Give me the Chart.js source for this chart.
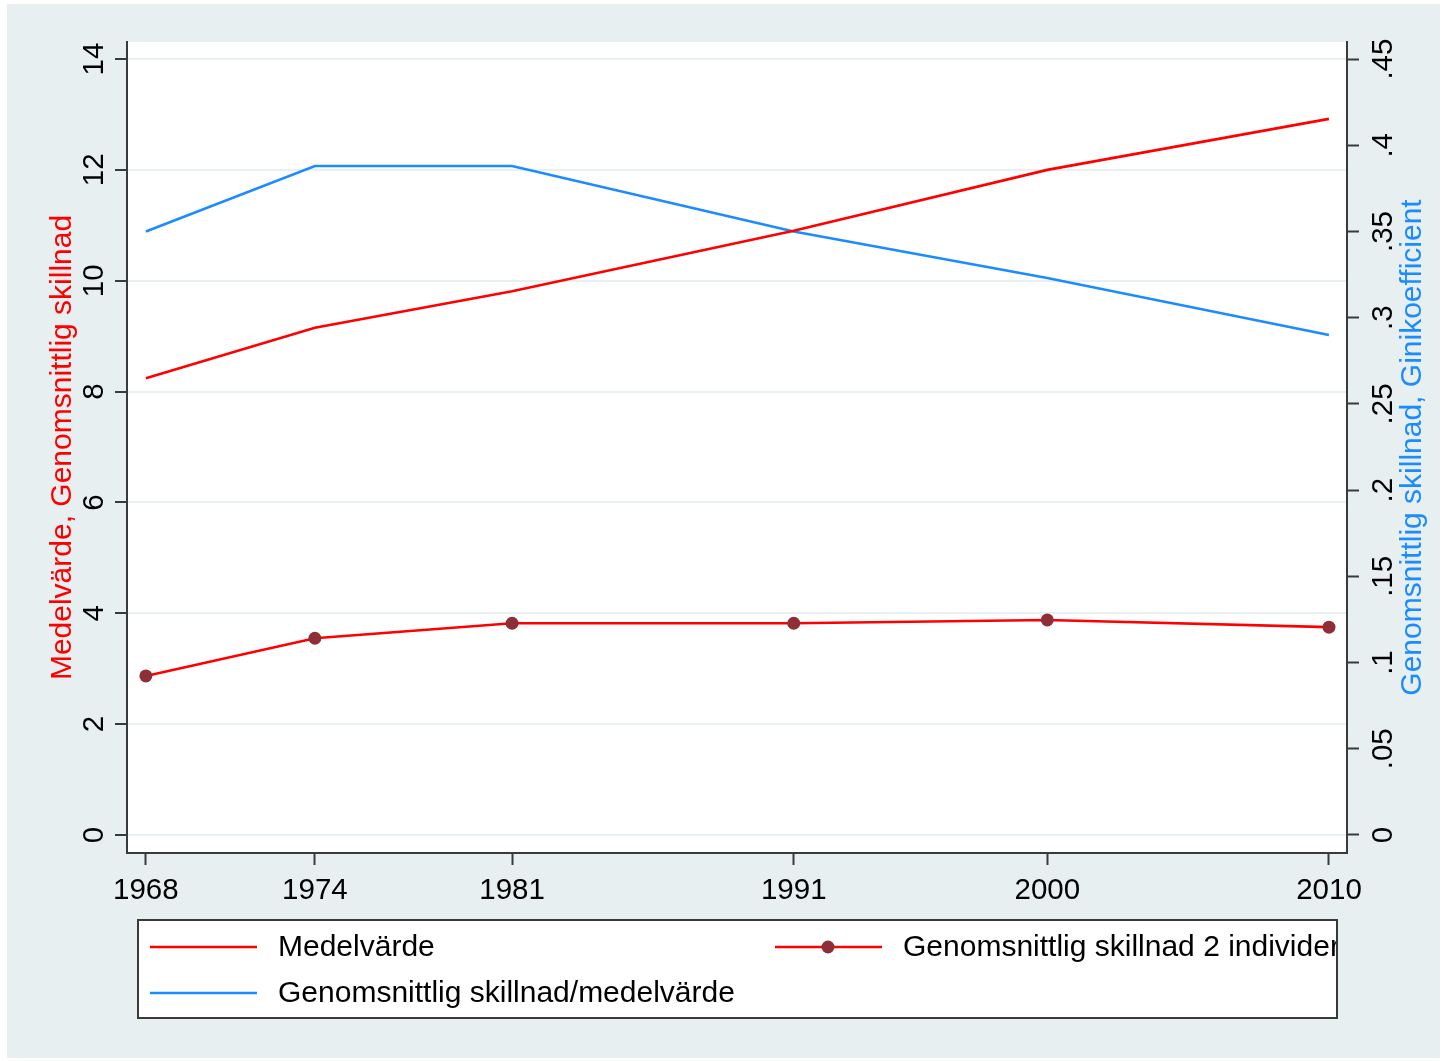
<!DOCTYPE html>
<html>
<head>
<meta charset="utf-8">
<title>Medelvärde och genomsnittlig skillnad</title>
<script src="https://cdn.jsdelivr.net/npm/chart.js@4/dist/chart.umd.min.js"></script>
<style>
  body { margin: 0; background: #ffffff; }
  #wrap { width: 1447px; height: 1061px; }
</style>
</head>
<body>
<div id="wrap"><canvas id="chart" width="1447" height="1061"></canvas></div>
<script>
// Data
const years = [1968, 1974, 1981, 1991, 2000, 2010];
const medelvarde = [8.24, 9.15, 9.81, 10.90, 12.00, 12.92];
const skillnad2 = [2.87, 3.55, 3.82, 3.82, 3.88, 3.75];
const skillnadPerMedel = [0.350, 0.388, 0.388, 0.350, 0.323, 0.290];

// tick labels
const leftTicks = [0, 2, 4, 6, 8, 10, 12, 14];
const rightTicks = [0, 0.05, 0.1, 0.15, 0.2, 0.25, 0.3, 0.35, 0.4, 0.45];

const seriesNames = ['Medelvärde', 'Genomsnittlig skillnad 2 individer', 'Genomsnittlig skillnad/medelvärde'];
const leftTitle = 'Medelvärde, Genomsnittlig skillnad';
const rightTitle = 'Genomsnittlig skillnad, Ginikoefficient';

const RED = '#ff0000';
const BLUE = '#1a8cff';
const MAROON = '#8e2f38';
const AXIS = '#3a3a3a';
const GRID = '#e9f0f2';
const FONT = "'Liberation Sans', Arial, sans-serif";

function toPoints(values) {
    return years.map((y, i) => ({ x: y, y: values[i] }));
}

// background: bluish-gray graph region + white plot region
const backgroundPlugin = {
    id: 'bg',
    beforeDraw(chart) {
        const ctx = chart.ctx;
        const a = chart.chartArea;
        ctx.save();
        ctx.fillStyle = '#e8eff1';
        ctx.fillRect(7, 4, 1433, 1054);
        ctx.fillStyle = '#ffffff';
        ctx.fillRect(a.left, a.top, a.right - a.left, a.bottom - a.top);
        ctx.restore();
    }
};

// axis titles, both reading bottom to top like the original
const axisTitlePlugin = {
    id: 'axisTitles',
    afterDraw(chart) {
        const ctx = chart.ctx;
        const a = chart.chartArea;
        const midY = (a.top + a.bottom) / 2;
        ctx.save();
        ctx.font = '30px ' + FONT;
        ctx.textAlign = 'center';
        ctx.textBaseline = 'middle';

        ctx.save();
        ctx.translate(chart.scales.y.left + 63, midY);
        ctx.rotate(-Math.PI / 2);
        ctx.fillStyle = RED;
        ctx.fillText(leftTitle, 0, 0);
        ctx.restore();

        ctx.save();
        ctx.translate(chart.scales.y2.left + 66, midY);
        ctx.rotate(-Math.PI / 2);
        ctx.fillStyle = BLUE;
        ctx.fillText(rightTitle, 0, 0);
        ctx.restore();

        ctx.restore();
    }
};

// Stata-like legend: boxed, two columns
const legendPlugin = {
    id: 'stataLegend',
    afterDraw(chart) {
        const ctx = chart.ctx;
        const box = { x: 138, y: 920, w: 1199, h: 98 };
        const slots = [
            { x: 150, y: 947 },
            { x: 775, y: 947 },
            { x: 150, y: 993 }
        ];
        ctx.save();
        ctx.fillStyle = '#ffffff';
        ctx.fillRect(box.x, box.y, box.w, box.h);

        ctx.save();
        ctx.beginPath();
        ctx.rect(box.x, box.y, box.w, box.h);
        ctx.clip();
        chart.data.datasets.forEach((ds, i) => {
            const s = slots[i];
            ctx.strokeStyle = ds.borderColor;
            ctx.lineWidth = ds.borderWidth;
            ctx.beginPath();
            ctx.moveTo(s.x, s.y);
            ctx.lineTo(s.x + 107, s.y);
            ctx.stroke();
            if (ds.pointRadius > 0) {
                ctx.fillStyle = ds.pointBackgroundColor;
                ctx.beginPath();
                ctx.arc(s.x + 53, s.y, ds.pointRadius, 0, Math.PI * 2);
                ctx.fill();
            }
            ctx.fillStyle = '#000000';
            ctx.font = '30px ' + FONT;
            ctx.textAlign = 'left';
            ctx.textBaseline = 'middle';
            ctx.fillText(ds.label, s.x + 128, s.y + 1);
        });
        ctx.restore();

        ctx.strokeStyle = AXIS;
        ctx.lineWidth = 2;
        ctx.strokeRect(box.x, box.y, box.w, box.h);
        ctx.restore();
    }
};

const ctx = document.getElementById('chart').getContext('2d');
const chart = new Chart(ctx, {
    type: 'line',
    data: {
        datasets: [
            {
                label: seriesNames[0],
                data: toPoints(medelvarde),
                yAxisID: 'y',
                borderColor: RED,
                borderWidth: 2.6,
                pointRadius: 0,
                tension: 0
            },
            {
                label: seriesNames[1],
                data: toPoints(skillnad2),
                yAxisID: 'y',
                borderColor: RED,
                borderWidth: 2.6,
                pointRadius: 6.5,
                pointBackgroundColor: MAROON,
                pointBorderColor: MAROON,
                pointBorderWidth: 0,
                tension: 0
            },
            {
                label: seriesNames[2],
                data: toPoints(skillnadPerMedel),
                yAxisID: 'y2',
                borderColor: BLUE,
                borderWidth: 2.6,
                pointRadius: 0,
                tension: 0
            }
        ]
    },
    options: {
        responsive: false,
        animation: false,
        devicePixelRatio: 1,
        layout: { padding: { top: 42, left: 0, right: 0, bottom: 148 } },
        plugins: {
            legend: { display: false },
            tooltip: { enabled: false }
        },
        scales: {
            x: {
                type: 'linear',
                position: 'bottom',
                min: 1967.33,
                max: 2010.64,
                afterBuildTicks: scale => { scale.ticks = years.map(v => ({ value: v })); },
                afterFit: scale => { scale.height = 60; },
                grid: {
                    drawOnChartArea: false,
                    tickLength: 12,
                    tickWidth: 2,
                    tickColor: AXIS
                },
                border: { display: true, color: AXIS, width: 2 },
                ticks: {
                    maxRotation: 0,
                    padding: 8,
                    color: '#000000',
                    font: { family: FONT, size: 29.5 },
                    callback: v => String(v)
                }
            },
            y: {
                type: 'linear',
                position: 'left',
                min: -0.325,
                max: 14.307,
                afterBuildTicks: scale => { scale.ticks = leftTicks.map(v => ({ value: v })); },
                afterFit: scale => { scale.width = 127; },
                grid: {
                    color: GRID,
                    lineWidth: 2,
                    tickLength: 12,
                    tickWidth: 2,
                    tickColor: AXIS
                },
                border: { display: true, color: AXIS, width: 2 },
                ticks: {
                    minRotation: 90,
                    maxRotation: 90,
                    crossAlign: 'center',
                    padding: 4,
                    color: '#000000',
                    font: { family: FONT, size: 29.5 },
                    callback: v => String(v)
                }
            },
            y2: {
                type: 'linear',
                position: 'right',
                min: -0.01045,
                max: 0.4599,
                afterBuildTicks: scale => { scale.ticks = rightTicks.map(v => ({ value: v })); },
                afterFit: scale => { scale.width = 100; },
                grid: {
                    drawOnChartArea: false,
                    tickLength: 12,
                    tickWidth: 2,
                    tickColor: AXIS
                },
                border: { display: true, color: AXIS, width: 2 },
                ticks: {
                    minRotation: 90,
                    maxRotation: 90,
                    crossAlign: 'center',
                    padding: 4,
                    color: '#000000',
                    font: { family: FONT, size: 29.5 },
                    callback: v => v === 0 ? '0' : String(+v.toFixed(2)).replace(/^0/, '')
                }
            }
        }
    },
    plugins: [backgroundPlugin, axisTitlePlugin, legendPlugin]
});
</script>
</body>
</html>
